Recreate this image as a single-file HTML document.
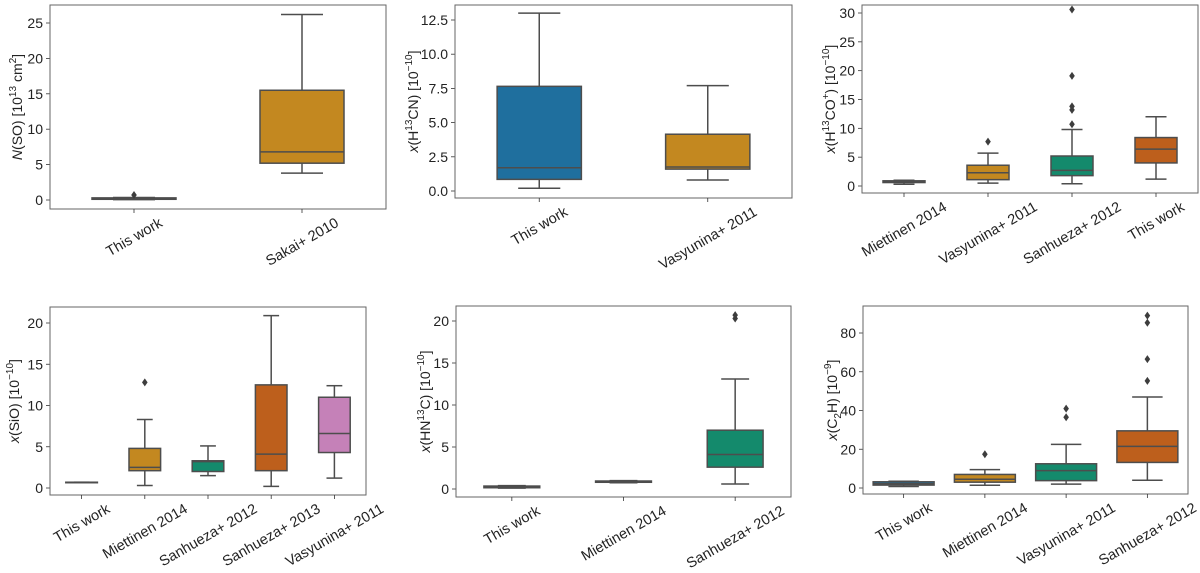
<!DOCTYPE html>
<html><head><meta charset="utf-8"><style>
body{margin:0;background:#fff;}
svg{display:block;font-family:"Liberation Sans","DejaVu Sans",sans-serif;}
</style></head><body>
<svg id="fig" width="1200" height="573" viewBox="0 0 1200 573" xmlns="http://www.w3.org/2000/svg"></svg>
<script>
// ---- data (per panel) ----
const p1Cats = ["This work","Sakai+ 2010"];
const p1Stats = [[0.05,0.1,0.15,0.3,0.35],[3.8,5.2,6.8,15.5,26.2]];
const p1Out = [[0.7],[]];
const p1Ticks = [0,5,10,15,20,25];

const p2Cats = ["This work","Vasyunina+ 2011"];
const p2Stats = [[0.2,0.85,1.7,7.65,13.0],[0.8,1.6,1.75,4.15,7.7]];
const p2Out = [[],[]];
const p2Ticks = [0,2.5,5,7.5,10,12.5];

const p3Cats = ["Miettinen 2014","Vasyunina+ 2011","Sanhueza+ 2012","This work"];
const p3Stats = [[0.3,0.6,0.75,0.9,1.0],[0.5,1.1,2.3,3.6,5.7],[0.4,1.8,2.7,5.2,9.8],[1.2,4.0,6.4,8.4,12.0]];
const p3Out = [[],[7.7],[10.7,13.2,13.8,19.1,30.6],[]];
const p3Ticks = [0,5,10,15,20,25,30];

const p4Cats = ["This work","Miettinen 2014","Sanhueza+ 2012","Sanhueza+ 2013","Vasyunina+ 2011"];
const p4Stats = [[0.7,0.7,0.7,0.7,0.7],[0.3,2.1,2.5,4.8,8.3],[1.5,2.0,3.2,3.3,5.1],[0.2,2.1,4.1,12.5,20.9],[1.2,4.3,6.6,11.0,12.4]];
const p4Out = [[],[12.8],[],[],[]];
const p4Ticks = [0,5,10,15,20];

const p5Cats = ["This work","Miettinen 2014","Sanhueza+ 2012"];
const p5Stats = [[0.1,0.15,0.25,0.35,0.4],[0.75,0.8,0.85,0.95,1.0],[0.6,2.6,4.1,7.0,13.1]];
const p5Out = [[],[],[20.3,20.7]];
const p5Ticks = [0,5,10,15,20];

const p6Cats = ["This work","Miettinen 2014","Vasyunina+ 2011","Sanhueza+ 2012"];
const p6Stats = [[0.8,1.5,2.2,3.2,3.5],[1.4,3.0,4.5,7.0,9.5],[2,3.8,9,12.5,22.5],[4,13.2,21.5,29.5,47]];
const p6Out = [[],[17.4],[36.5,41],[55.3,66.5,85.3,89]];
const p6Ticks = [0,20,40,60,80];

const palette = ["#1f6f9e","#c38820","#148a6c","#bd5f1c","#c581b8"];
const NS="http://www.w3.org/2000/svg";
const svg=document.getElementById('fig');
function mk(tag,attrs,parent){const e=document.createElementNS(NS,tag);for(const k in attrs)e.setAttribute(k,attrs[k]);(parent||svg).appendChild(e);return e;}

const SUP='dy="-6" font-size="10"';
const panels=[
 {id:'nso',L:50,R:386,T:5,B:209,y0:200,yv:25,yp:23,cats:p1Cats,stats:p1Stats,out:p1Out,ticks:p1Ticks,dec:0,bw:0.5,ylx:17,yl:`<tspan font-style="italic">N</tspan>(SO) [10<tspan ${SUP}>13</tspan><tspan dy="6"> cm</tspan><tspan ${SUP}>2</tspan><tspan dy="6">]</tspan>`},
 {id:'h13cn',L:455,R:792,T:5,B:198,y0:191,yv:12.5,yp:20,cats:p2Cats,stats:p2Stats,out:p2Out,ticks:p2Ticks,dec:1,bw:0.5,ylx:413,yl:`<tspan font-style="italic">x</tspan>(H<tspan ${SUP}>13</tspan><tspan dy="6">CN) [10</tspan><tspan ${SUP}>−10</tspan><tspan dy="6">]</tspan>`},
 {id:'h13co',L:862,R:1198,T:5,B:193,y0:186,yv:30,yp:13,cats:p3Cats,stats:p3Stats,out:p3Out,ticks:p3Ticks,dec:0,bw:0.5,ylx:830,yl:`<tspan font-style="italic">x</tspan>(H<tspan ${SUP}>13</tspan><tspan dy="6">CO</tspan><tspan ${SUP}>+</tspan><tspan dy="6">) [10</tspan><tspan ${SUP}>−10</tspan><tspan dy="6">]</tspan>`},
 {id:'sio',L:50,R:366,T:307,B:495,y0:488,yv:20,yp:323,cats:p4Cats,stats:p4Stats,out:p4Out,ticks:p4Ticks,dec:0,bw:0.5,ylx:14,yl:`<tspan font-style="italic">x</tspan>(SiO) [10<tspan ${SUP}>−10</tspan><tspan dy="6">]</tspan>`},
 {id:'hn13c',L:456,R:791,T:306,B:497,y0:489,yv:20,yp:321,cats:p5Cats,stats:p5Stats,out:p5Out,ticks:p5Ticks,dec:0,bw:0.5,ylx:425,yl:`<tspan font-style="italic">x</tspan>(HN<tspan ${SUP}>13</tspan><tspan dy="6">C) [10</tspan><tspan ${SUP}>−10</tspan><tspan dy="6">]</tspan>`},
 {id:'c2h',L:863,R:1188,T:306,B:494,y0:488,yv:80,yp:333,cats:p6Cats,stats:p6Stats,out:p6Out,ticks:p6Ticks,dec:0,bw:0.75,ylx:832,yl:`<tspan font-style="italic">x</tspan>(C<tspan dy="4" font-size="10">2</tspan><tspan dy="-4">H) [10</tspan><tspan ${SUP}>−9</tspan><tspan dy="6">]</tspan>`}
];
const LC="#4d4d4d";
panels.forEach(p=>{
  const g=mk('g',{});
  
  
  const ys=v=>p.y0-(v/p.yv)*(p.y0-p.yp);
  const n=p.cats.length, step=(p.R-p.L)/n;
  const xs=i=>p.L+step*(i+0.5);
  const bw=step*p.bw;
  p.ticks.forEach(t=>{
    const y=ys(t);
    const tl=mk('line',{x1:p.L-4,x2:p.L,y1:y,y2:y,stroke:'#333','stroke-width':0.8},g);
    
    
    const tx=mk('text',{x:p.L-7,y:y+5,'text-anchor':'end','font-size':14,fill:'#222'},g);
    
    
    tx.textContent=t.toFixed(p.dec);
  });
  p.stats.forEach((s,i)=>{
    const x=xs(i), c=palette[i%palette.length];
    const bg=mk('g',{},g);
    
    
    mk('line',{x1:x,x2:x,y1:ys(s[0]),y2:ys(s[1]),stroke:LC,'stroke-width':1.5},bg);
    mk('line',{x1:x,x2:x,y1:ys(s[3]),y2:ys(s[4]),stroke:LC,'stroke-width':1.5},bg);
    mk('line',{x1:x-bw/4,x2:x+bw/4,y1:ys(s[0]),y2:ys(s[0]),stroke:LC,'stroke-width':1.5},bg);
    mk('line',{x1:x-bw/4,x2:x+bw/4,y1:ys(s[4]),y2:ys(s[4]),stroke:LC,'stroke-width':1.5},bg);
    const top=ys(s[3]),bot=ys(s[1]);
    mk('rect',{x:x-bw/2,y:top,width:bw,height:Math.max(bot-top,0.5),fill:c,stroke:LC,'stroke-width':1.5},bg);
    mk('line',{x1:x-bw/2,x2:x+bw/2,y1:ys(s[2]),y2:ys(s[2]),stroke:LC,'stroke-width':1.5},bg);
    p.out[i].forEach(o=>{
      const y=ys(o);
      const d=mk('path',{d:`M${x},${y-4}L${x+2.8},${y}L${x},${y+4}L${x-2.8},${y}Z`,fill:'#3d3d3d'},bg);
      
      
    });
  });
  const fr=mk('rect',{x:p.L,y:p.T,width:p.R-p.L,height:p.B-p.T,fill:'none',stroke:'#666','stroke-width':1},g);
  
  
  p.cats.forEach((c,i)=>{
    const x=xs(i);
    const tl=mk('line',{x1:x,x2:x,y1:p.B,y2:p.B+4,stroke:'#333','stroke-width':0.8},g);
    
    
    const tx=mk('text',{'text-anchor':'middle','font-size':14.5,fill:'#222'},g);
    
    
    tx.textContent=c;
    const w=tx.getComputedTextLength();
    const h=(w*0.5+14.5*0.866);
    const cy=p.B+6+h/2;
    tx.setAttribute('transform',`translate(${x},${cy}) rotate(-30)`);
    tx.setAttribute('y',5);
  });
  const yl=mk('text',{'text-anchor':'middle','font-size':14,fill:'#222',transform:`translate(${p.ylx+5},${(p.T+p.B)/2}) rotate(-90)`},g);
  
  
  yl.innerHTML=p.yl;
});
</script>
</body></html>
